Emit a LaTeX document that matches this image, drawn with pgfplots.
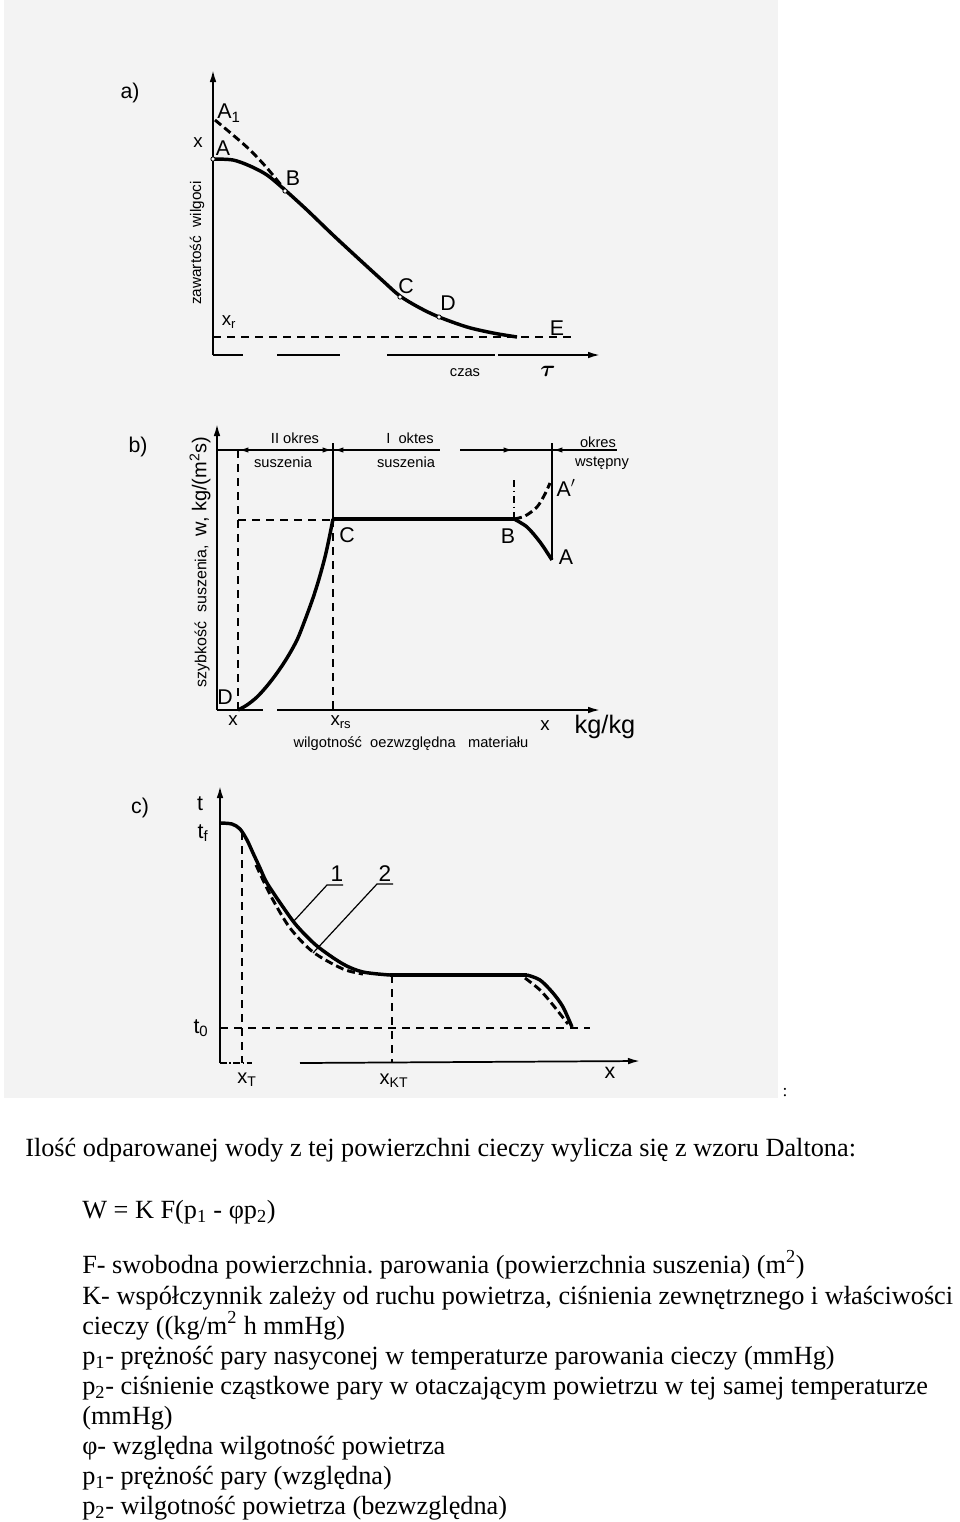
\documentclass[border=0pt]{standalone}
\usepackage{amsmath}
\usepackage{fontspec}
\setmainfont{Liberation Serif}
\newfontfamily\lab{Liberation Sans}
\usepackage{pgfplots}
\pgfplotsset{compat=1.18}
\usetikzlibrary{arrows.meta}
\definecolor{scan}{RGB}{243,243,243}
\pgfplotsset{diag/.style={hide axis, clip=false, x=0.75pt, y=0.75pt, anchor=south west},
  ax/.style={black, line width=1.3pt, no marks},
  arr/.style={ax, -{Latex[length=9pt,width=5pt]}},
  dim/.style={black, line width=1pt, no marks, -{Latex[length=7pt,width=4pt]}},
  cur/.style={black, line width=2.6pt, no marks, smooth},
  dcur/.style={black, line width=2.2pt, no marks, smooth, dash pattern=on 6pt off 3pt},
  dsh/.style={black, line width=1pt, no marks, dash pattern=on 6pt off 4.5pt}}
\frenchspacing
\begin{document}
\begin{tikzpicture}[x=0.75pt,y=0.75pt]
\fill[white] (0,0) rectangle (960,-1522);
\fill[scan] (4,0) rectangle (778,-1098);
% ---------------- a)
\begin{axis}[diag, at={(120,-400)}, xmin=120, xmax=640, ymin=-400, ymax=-60]
\addplot[arr] coordinates {(213,-355) (213,-70)};
\addplot[ax] coordinates {(213,-355) (243,-355)};
\addplot[ax] coordinates {(277,-355) (340,-355)};
\addplot[ax] coordinates {(387,-355) (495,-355)};
\addplot[arr] coordinates {(498,-355) (600,-355)};
\addplot[dsh] coordinates {(213,-337) (577,-337)};
\addplot[cur] coordinates {(213,-159) (233,-160) (250,-166) (267,-175) (285,-190) (307,-210) (333,-235) (360,-260) (383,-281) (400,-296) (420,-308) (439,-317) (467,-327) (493,-333) (517,-337)};
\addplot[dcur] coordinates {(215,-120) (233,-135) (250,-150) (267,-168) (285,-190)};
\addplot[only marks, mark=*, mark size=1.6pt, mark options={fill=white, line width=0.6pt}] coordinates {(213,-159) (285,-191) (400,-297) (439,-317)};
\node[font=\lab\fontsize{16}{16}\selectfont] at (axis cs:130,-93) {a)};
\node[font=\lab\fontsize{14}{14}\selectfont] at (axis cs:198,-143) {x};
\node[font=\lab\fontsize{16}{16}\selectfont] at (axis cs:223,-148) {A};
\node[font=\lab\fontsize{16}{16}\selectfont] at (axis cs:229,-113) {A\textsubscript{1}};
\node[font=\lab\fontsize{16}{16}\selectfont] at (axis cs:293,-178) {B};
\node[font=\lab\fontsize{16}{16}\selectfont] at (axis cs:406,-286) {C};
\node[font=\lab\fontsize{16}{16}\selectfont] at (axis cs:448,-303) {D};
\node[font=\lab\fontsize{16}{16}\selectfont] at (axis cs:557,-328) {E};
\node[font=\lab\fontsize{14}{14}\selectfont] at (axis cs:229,-322) {x\textsubscript{r}};
\node[font=\lab\fontsize{11}{11}\selectfont] at (axis cs:465,-373) {czas};
\node[font=\fontsize{18}{18}\selectfont] at (axis cs:548,-371) {$\boldsymbol{\tau}$};
\node[font=\lab\fontsize{11.5}{11.5}\selectfont, rotate=90] at (axis cs:197,-243) {zawartość\ \ wilgoci};
\end{axis}
% ---------------- b)
\begin{axis}[diag, at={(120,-770)}, xmin=120, xmax=660, ymin=-770, ymax=-410]
\addplot[arr] coordinates {(217,-710) (217,-424)};
\addplot[ax] coordinates {(217,-710) (263,-710)};
\addplot[arr] coordinates {(277,-710) (600,-710)};
\addplot[black, line width=1pt, no marks] coordinates {(217,-450) (440,-450)};
\addplot[black, line width=1pt, no marks] coordinates {(460,-450) (617,-450)};
\addplot[dim] coordinates {(258,-450) (239,-450)};
\addplot[dim] coordinates {(314,-450) (332,-450)};
\addplot[dim] coordinates {(352,-450) (334,-450)};
\addplot[dim] coordinates {(496,-450) (513,-450)};
\addplot[dim] coordinates {(572,-450) (553,-450)};
\addplot[black, line width=1pt, no marks] coordinates {(333,-443) (333,-519)};
\addplot[dsh] coordinates {(333,-519) (333,-710)};
\addplot[dsh] coordinates {(238,-450) (238,-710)};
\addplot[dsh] coordinates {(238,-520) (333,-520)};
\addplot[black, line width=1pt, no marks, dash pattern=on 5pt off 3pt on 1pt off 3pt] coordinates {(514,-480) (514,-519)};
\addplot[black, line width=1pt, no marks] coordinates {(552,-443) (552,-560)};
\addplot[cur] coordinates {(238,-710) (247,-705) (257,-697) (267,-686) (277,-673) (287,-658) (297,-640) (305,-620) (313,-598) (319,-579) (325,-557) (329,-539) (333,-519)};
\addplot[cur, smooth=false] coordinates {(333,-519) (514,-519)};
\addplot[cur] coordinates {(514,-519) (527,-527) (540,-542) (552,-560)};
\addplot[dcur] coordinates {(514,-519) (525,-516) (537,-507) (545,-494) (550,-483)};
\node[font=\lab\fontsize{16}{16}\selectfont] at (axis cs:138,-447) {b)};
\node[font=\lab\fontsize{11}{11}\selectfont] at (axis cs:295,-438) {II okres};
\node[font=\lab\fontsize{11}{11}\selectfont] at (axis cs:283,-462) {suszenia};
\node[font=\lab\fontsize{11}{11}\selectfont] at (axis cs:410,-438) {I\ \ oktes};
\node[font=\lab\fontsize{11}{11}\selectfont] at (axis cs:406,-462) {suszenia};
\node[font=\lab\fontsize{11}{11}\selectfont] at (axis cs:598,-442) {okres};
\node[font=\lab\fontsize{11}{11}\selectfont] at (axis cs:602,-463) {wstępny};
\node[font=\lab\fontsize{16}{16}\selectfont] at (axis cs:566,-488) {A$'$};
\node[font=\lab\fontsize{16}{16}\selectfont] at (axis cs:508,-536) {B};
\node[font=\lab\fontsize{16}{16}\selectfont] at (axis cs:347,-535) {C};
\node[font=\lab\fontsize{16}{16}\selectfont] at (axis cs:566,-557) {A};
\node[font=\lab\fontsize{16}{16}\selectfont] at (axis cs:225,-697) {D};
\node[font=\lab\fontsize{14}{14}\selectfont] at (axis cs:233,-721) {x};
\node[font=\lab\fontsize{14}{14}\selectfont] at (axis cs:341,-722) {x\textsubscript{rs}};
\node[font=\lab\fontsize{14}{14}\selectfont] at (axis cs:545,-726) {x};
\node[font=\lab\fontsize{19}{19}\selectfont] at (axis cs:605,-727) {kg/kg};
\node[font=\lab\fontsize{11}{11}\selectfont] at (axis cs:411,-744) {wilgotność\ \ oezwzględna\ \ \ materiału};
\node[font=\lab\fontsize{12}{12}\selectfont, rotate=90] at (axis cs:200,-562) {szybkość\ \ suszenia,\ \ \fontsize{15}{15}\selectfont w,\ kg/(m\textsuperscript{2}s)};
\end{axis}
% ---------------- c)
\begin{axis}[diag, at={(120,-1100)}, xmin=120, xmax=660, ymin=-1100, ymax=-780]
\addplot[arr] coordinates {(220,-1063) (220,-786)};
\addplot[black, line width=1pt, no marks, dash pattern=on 5pt off 2pt on 1pt off 2pt] coordinates {(220,-1063) (252,-1063)};
\addplot[arr] coordinates {(300,-1063) (640,-1061)};
\addplot[dsh] coordinates {(220,-1028) (590,-1028)};
\addplot[dsh] coordinates {(242,-832) (242,-1063)};
\addplot[dsh] coordinates {(392,-975) (392,-1063)};
\addplot[cur] coordinates {(220,-823) (232,-824) (240,-829) (247,-840) (253,-853) (260,-868) (267,-883) (283,-907) (297,-926) (317,-946) (343,-964) (363,-972) (390,-975)};
\addplot[cur, smooth=false] coordinates {(390,-975) (527,-975)};
\addplot[cur] coordinates {(527,-975) (540,-980) (553,-993) (563,-1007) (572,-1027)};
\addplot[dcur] coordinates {(256,-865) (263,-880) (273,-900) (290,-928) (313,-952) (343,-969) (363,-974)};
\addplot[dcur] coordinates {(525,-978) (540,-990) (553,-1005) (568,-1024)};
\addplot[black, line width=0.9pt, no marks] coordinates {(293,-922) (327,-885) (343,-885)};
\addplot[black, line width=0.9pt, no marks] coordinates {(313,-953) (377,-884) (393,-884)};
\node[font=\lab\fontsize{16}{16}\selectfont] at (axis cs:140,-808) {c)};
\node[font=\lab\fontsize{16}{16}\selectfont] at (axis cs:200,-804) {t};
\node[font=\lab\fontsize{16}{16}\selectfont] at (axis cs:203,-833) {t\textsubscript{f}};
\node[font=\lab\fontsize{16}{16}\selectfont] at (axis cs:201,-1028) {t\textsubscript{0}};
\node[font=\lab\fontsize{15}{15}\selectfont] at (axis cs:247,-1080) {x\textsubscript{T}};
\node[font=\lab\fontsize{15}{15}\selectfont] at (axis cs:394,-1081) {x\textsubscript{KT}};
\node[font=\lab\fontsize{16}{16}\selectfont] at (axis cs:610,-1073) {x};
\node[font=\lab\fontsize{17}{17}\selectfont] at (axis cs:337,-874) {1};
\node[font=\lab\fontsize{17}{17}\selectfont] at (axis cs:385,-874) {2};
\end{axis}
% ---------------- text
\node[font=\fontsize{13}{13}\selectfont] at (785,-1093) {:};
\begin{scope}[every node/.style={anchor=base west, inner sep=0pt, font=\fontsize{19.7}{19.7}\selectfont}]
\node at (25,-1156) {Ilość odparowanej wody z tej powierzchni cieczy wylicza się z wzoru Daltona:};
\node at (82,-1218) {W = K F(p\textsubscript{1} - φp\textsubscript{2})};
\node at (82,-1273) {F- swobodna powierzchnia. parowania (powierzchnia suszenia) (m\textsuperscript{2})};
\node at (82,-1304) {K- współczynnik zależy od ruchu powietrza, ciśnienia zewnętrznego i właściwości};
\node at (82,-1334) {cieczy ((kg/m\textsuperscript{2} h mmHg)};
\node at (82,-1364) {p\textsubscript{1}- prężność pary nasyconej w temperaturze parowania cieczy (mmHg)};
\node at (82,-1394) {p\textsubscript{2}- ciśnienie cząstkowe pary w otaczającym powietrzu w tej samej temperaturze};
\node at (82,-1424) {(mmHg)};
\node at (82,-1454) {φ- względna wilgotność powietrza};
\node at (82,-1484) {p\textsubscript{1}- prężność pary (względna)};
\node at (82,-1514) {p\textsubscript{2}- wilgotność powietrza (bezwzględna)};
\end{scope}
\end{tikzpicture}
\end{document}
